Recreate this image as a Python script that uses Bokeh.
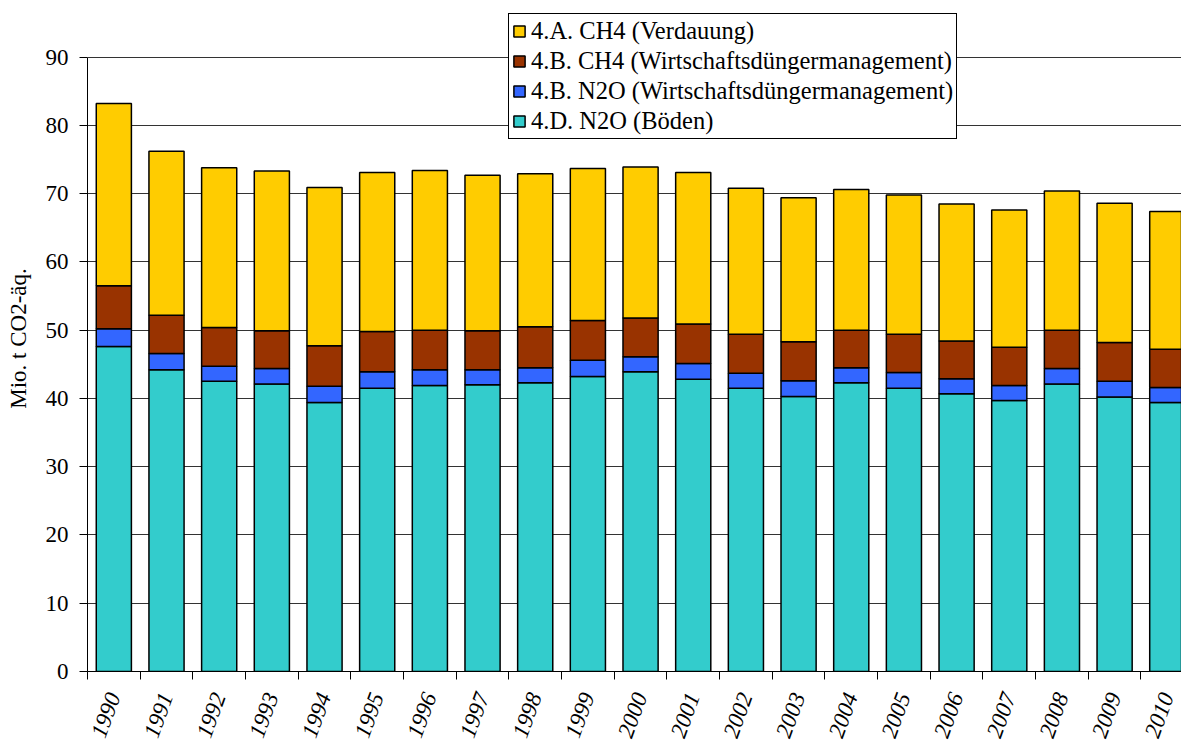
from bokeh.plotting import figure
from bokeh.models import Range1d, FixedTicker, Legend, LegendItem, ColumnDataSource
from bokeh.embed import file_html
from bokeh.resources import INLINE

years = list(range(1990, 2011))
boeden_n2o = [47.6, 44.2, 42.5, 42.1, 39.4, 41.5, 41.9, 42.0, 42.3, 43.2, 43.9,
              42.8, 41.5, 40.3, 42.3, 41.5, 40.7, 39.7, 42.1, 40.2, 39.4]
wdm_n2o = [2.6, 2.4, 2.2, 2.3, 2.4, 2.4, 2.3, 2.2, 2.2, 2.4, 2.2,
           2.3, 2.2, 2.3, 2.2, 2.3, 2.2, 2.2, 2.3, 2.3, 2.2]
wdm_ch4 = [6.3, 5.6, 5.7, 5.5, 5.9, 5.9, 5.8, 5.7, 6.0, 5.8, 5.7,
           5.8, 5.7, 5.7, 5.5, 5.6, 5.5, 5.6, 5.6, 5.7, 5.6]
verdauung_ch4 = [26.7, 24.0, 23.4, 23.4, 23.2, 23.3, 23.4, 22.8, 22.4, 22.3, 22.1,
                 22.2, 21.4, 21.1, 20.6, 20.4, 20.1, 20.1, 20.4, 20.4, 20.2]

series_keys = ["boeden_n2o", "wdm_n2o", "wdm_ch4", "verdauung_ch4"]
series_labels = ["4.D. N2O (Böden)", "4.B. N2O (Wirtschaftsdüngermanagement)",
                 "4.B. CH4 (Wirtschaftsdüngermanagement)", "4.A. CH4 (Verdauung)"]
colors = ["#33CCCC", "#3366FF", "#993300", "#FFCC00"]
y_ticks = [0, 10, 20, 30, 40, 50, 60, 70, 80, 90]

FONT = "Liberation Serif"

source = ColumnDataSource(dict(year=years, boeden_n2o=boeden_n2o, wdm_n2o=wdm_n2o,
                               wdm_ch4=wdm_ch4, verdauung_ch4=verdauung_ch4))

p = figure(width=1181, height=744, output_backend="svg", toolbar_location=None,
           x_range=Range1d(1989.5, 2010.27), y_range=Range1d(0, 97.56),
           min_border_left=87, min_border_top=5, min_border_bottom=72, min_border_right=0)
p.outline_line_color = None
p.background_fill_color = "white"

rs = p.vbar_stack(series_keys, x="year", width=0.667, source=source,
                  fill_color=colors, line_color="black", line_width=1.5)

# y axis
p.yaxis.ticker = FixedTicker(ticks=y_ticks)
p.yaxis.bounds = (0, 90)
p.yaxis.major_tick_out = 8
p.yaxis.major_tick_in = 0
p.yaxis.minor_tick_out = 0
p.yaxis.minor_tick_in = 0
p.yaxis.major_label_standoff = 11
p.yaxis.major_label_text_font = FONT
p.yaxis.major_label_text_font_size = "23px"
p.yaxis.major_label_text_color = "black"
p.yaxis.axis_line_color = "black"
p.yaxis.major_tick_line_color = "black"
p.yaxis.axis_label = "Mio. t CO2-äq."
p.yaxis.axis_label_text_font = FONT
p.yaxis.axis_label_text_font_size = "23px"
p.yaxis.axis_label_text_font_style = "normal"
p.yaxis.axis_label_text_color = "black"
p.yaxis.axis_label_standoff = 12

# x axis: labels under bars, ticks between categories
p.xaxis.ticker = FixedTicker(ticks=years, minor_ticks=[y - 0.5 for y in years] + [years[-1] + 0.5])
p.xaxis.major_tick_out = 0
p.xaxis.major_tick_in = 0
p.xaxis.minor_tick_out = 8
p.xaxis.minor_tick_in = 0
p.xaxis.minor_tick_line_color = "black"
p.xaxis.axis_line_color = "black"
p.xaxis.major_label_orientation = 1.22
p.xaxis.major_label_standoff = 14
p.xaxis.major_label_text_font = FONT
p.xaxis.major_label_text_font_size = "23px"
p.xaxis.major_label_text_font_style = "italic"
p.xaxis.major_label_text_color = "black"

p.xgrid.grid_line_color = None
p.ygrid.ticker = FixedTicker(ticks=y_ticks)
p.ygrid.grid_line_color = "black"
p.ygrid.grid_line_alpha = 0.8
p.ygrid.grid_line_width = 1

items = [LegendItem(label=series_labels[i], renderers=[rs[i]]) for i in [3, 2, 1, 0]]
legend = Legend(items=items, location=(421, 532), orientation="vertical",
                border_line_color="black", border_line_width=1, border_line_alpha=1,
                background_fill_color="white", background_fill_alpha=1,
                label_text_font=FONT, label_text_font_size="24.5px", label_text_color="black",
                glyph_width=14, glyph_height=14, label_standoff=5, label_height=24,
                spacing=2, padding=3, margin=0)
p.add_layout(legend)

open("out.html", "w").write(file_html(p, INLINE))
